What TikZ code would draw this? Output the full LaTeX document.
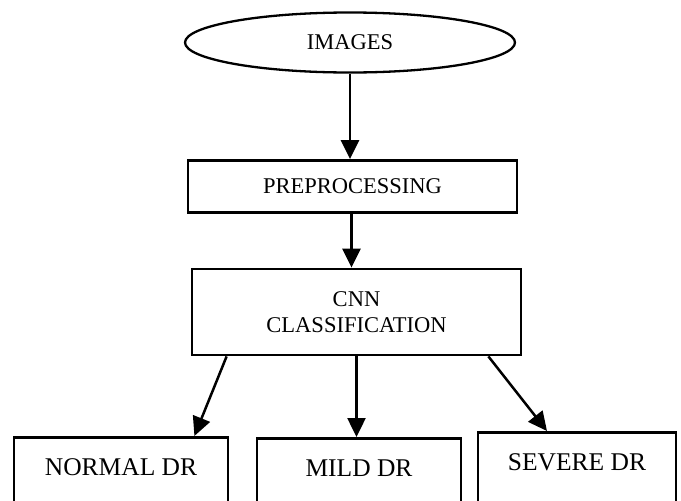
\documentclass[tikz,border=0pt]{standalone}
\usepackage{fontspec}
\setmainfont{Liberation Serif}
\usetikzlibrary{shapes.geometric,arrows.meta,calc}

\begin{document}
\begin{tikzpicture}[x=1pt,y=-1pt,
  box/.style={draw, line width=2.8pt, rectangle, inner sep=0pt},
  smallfont/.style={font=\fontsize{22.5}{26}\selectfont},
  leaf/.style={box, font=\fontsize{25.5}{30}\selectfont, anchor=north,
               text height=38pt, text depth=60pt},
  flow/.style={line width=2.5pt, -{Triangle[length=19pt,width=18pt]}}]

  \useasboundingbox (0,0) rectangle (681,501);
  \clip (0,0) rectangle (681,501);

  % input
  \node[ellipse, draw, line width=2.3pt, inner sep=0pt, smallfont,
        minimum width=330pt, minimum height=60pt] (img) at (350,42.5) {IMAGES};

  % processing stages
  \node[box, smallfont, minimum width=329pt, minimum height=52pt]
        (pre) at (352.5,186.5) {PREPROCESSING};
  \node[box, smallfont, align=center, minimum width=329pt, minimum height=86pt]
        (cnn) at (356.5,312) {CNN\\CLASSIFICATION};

  % output classes
  \node[leaf, minimum width=214pt] (normal) at (121,436) {NORMAL DR};
  \node[leaf, minimum width=204pt] (mild)   at (359,437) {MILD DR};
  \node[leaf, minimum width=198pt] (severe) at (577,431) {SEVERE DR};

  % connectors
  \draw[flow] (img.south) -- (img.south |- pre.north);
  \draw[flow] ($(pre.south)+(-1,0)$) -- ($(pre.south |- cnn.north)+(-1,0)$);
  \draw[flow] ($(cnn.south west)+(36,0)$) -- ($(normal.north east)+(-35,0)$);
  \draw[flow] (cnn.south) -- (cnn.south |- mild.north);
  \draw[flow] ($(cnn.south east)+(-34,0)$) -- ($(severe.north)+(-30,0)$);
\end{tikzpicture}
\end{document}
